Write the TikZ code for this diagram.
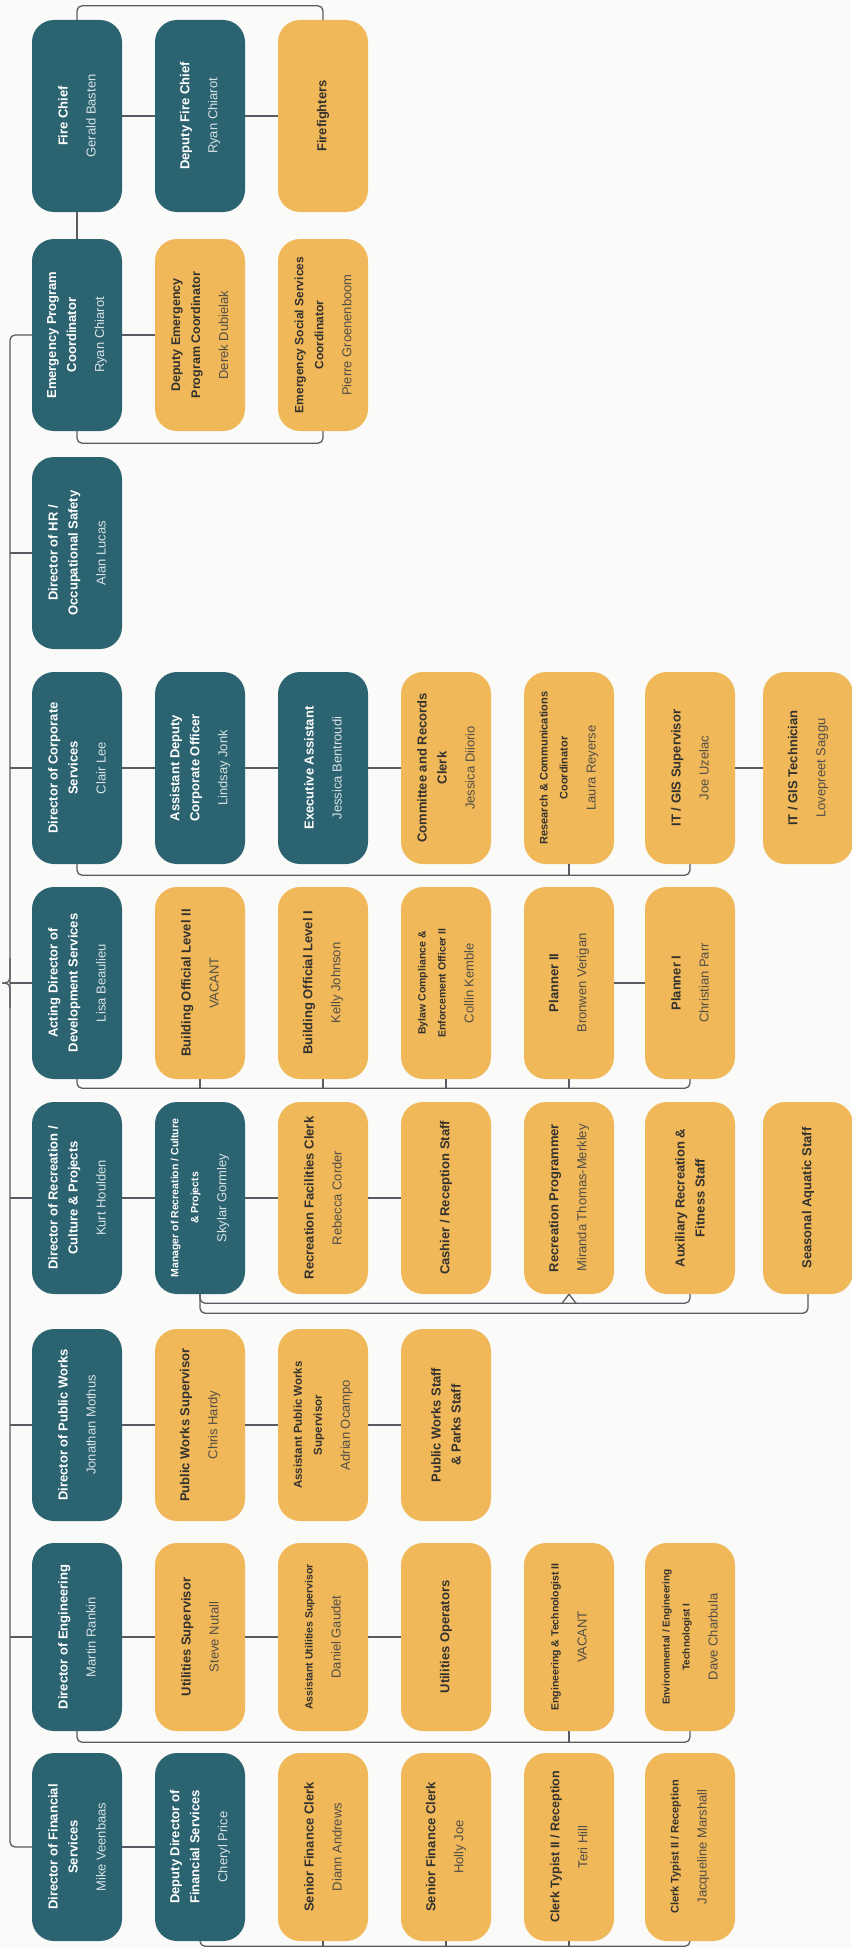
\documentclass[tikz,border=0pt]{standalone}
\usepackage{fontspec}
\setmainfont{Liberation Sans}
\usepackage{graphicx}
\usepackage{tikz, xcolor}

\definecolor{leadfill}{RGB}{44,99,113}
\definecolor{stafffill}{RGB}{240,184,88}
\definecolor{leadname}{RGB}{214,226,228}
\definecolor{stafftext}{RGB}{52,50,47}
\definecolor{staffname}{RGB}{82,78,72}
\definecolor{linegray}{RGB}{88,92,98}
\definecolor{paper}{RGB}{250,250,249}

\def\namecol{staffname}
\newcommand{\job}[3][13]{\rotatebox{90}{\parbox{184pt}{\centering
    \fontsize{#1}{20}\selectfont\bfseries #2\par\vspace{8pt}
    \fontsize{13}{20}\selectfont\mdseries\color{\namecol}#3}}}
\newcommand{\crew}[2][13]{\rotatebox{90}{\parbox{184pt}{\centering
    \fontsize{#1}{20}\selectfont\bfseries #2}}}

\tikzset{
  card/.style={rounded corners=22pt, minimum width=90pt, minimum height=192pt, inner sep=0pt},
  lead/.style={card, fill=leadfill, text=white, execute at begin node={\def\namecol{leadname}}},
  staff/.style={card, fill=stafffill, text=stafftext, execute at begin node={\def\namecol{staffname}}},
  short/.style={minimum height=188pt},
  link/.style={draw=linegray, line width=1.3pt, rounded corners=5pt}
}

\begin{document}
\begin{tikzpicture}[x=1pt, y=-1pt]
    \fill [paper] (0, 0) rectangle (851, 1948);
    \useasboundingbox (0, 0) rectangle (851, 1948);

    % fire
    \node [lead] (fc) at (77, 116) {\job{Fire Chief}{Gerald Basten}};
    \node [lead] (dfc) at (200, 116) {\job{Deputy Fire Chief}{Ryan Chiarot}};
    \node [staff] (ff) at (323, 116) {\crew{Firefighters}};

    % emergency program
    \node [lead] (epc) at (77, 335) {\job{Emergency Program\\Coordinator}{Ryan Chiarot}};
    \node [staff] (depc) at (200, 335) {\job[12.5]{Deputy Emergency\\Program Coordinator}{Derek Dubielak}};
    \node [staff] (ess) at (323, 335) {\job[12]{Emergency Social Services\\Coordinator}{Pierre Groenenboom}};

    % hr
    \node [lead] (dhr) at (77, 553) {\job{Director of HR /\\Occupational Safety}{Alan Lucas}};

    % corporate services
    \node [lead] (dcs) at (77, 768) {\job{Director of Corporate\\Services}{Clair Lee}};
    \node [lead] (adco) at (200, 768) {\job{Assistant Deputy\\Corporate Officer}{Lindsay Jonk}};
    \node [lead] (ea) at (323, 768) {\job{Executive Assistant}{Jessica Bentroudi}};
    \node [staff] (crc) at (446, 768) {\job{Committee and Records\\Clerk}{Jessica Diiorio}};
    \node [staff] (rcc) at (569, 768) {\job[11]{Research \& Communications\\Coordinator}{Laura Reyerse}};
    \node [staff] (its) at (690, 768) {\job{IT / GIS Supervisor}{Joe Uzelac}};
    \node [staff] (itt) at (808, 768) {\job{IT / GIS Technician}{Lovepreet Saggu}};

    % development services
    \node [lead] (dds) at (77, 983) {\job{Acting Director of\\Development Services}{Lisa Beaulieu}};
    \node [staff] (bo2) at (200, 983) {\job{Building Official Level II}{VACANT}};
    \node [staff] (bo1) at (323, 983) {\job{Building Official Level I}{Kelly Johnson}};
    \node [staff] (byl) at (446, 983) {\job[10.5]{Bylaw Compliance \&\\Enforcement Officer II}{Collin Kemble}};
    \node [staff] (p2) at (569, 983) {\job{Planner II}{Bronwen Verigan}};
    \node [staff] (p1) at (690, 983) {\job{Planner I}{Christian Parr}};

    % recreation
    \node [lead] (drc) at (77, 1198) {\job{Director of Recreation /\\Culture \& Projects}{Kurt Houlden}};
    \node [lead] (mgr) at (200, 1198) {\job[10.5]{Manager of Recreation / Culture\\\& Projects}{Skylar Gormley}};
    \node [staff] (rfc) at (323, 1198) {\job{Recreation Facilities Clerk}{Rebecca Corder}};
    \node [staff] (cash) at (446, 1198) {\crew{Cashier / Reception Staff}};
    \node [staff] (rp) at (569, 1198) {\job{Recreation Programmer}{Miranda Thomas-Merkley}};
    \node [staff] (aux) at (690, 1198) {\crew{Auxiliary Recreation \&\\Fitness Staff}};
    \node [staff] (sas) at (808, 1198) {\crew{Seasonal Aquatic Staff}};

    % public works
    \node [lead] (dpw) at (77, 1425) {\job{Director of Public Works}{Jonathan Mothus}};
    \node [staff] (pws) at (200, 1425) {\job{Public Works Supervisor}{Chris Hardy}};
    \node [staff] (apws) at (323, 1425) {\job[11.5]{Assistant Public Works\\Supervisor}{Adrian Ocampo}};
    \node [staff] (pwst) at (446, 1425) {\crew{Public Works Staff\\\& Parks Staff}};

    % engineering
    \node [lead, short] (den) at (77, 1637) {\job{Director of Engineering}{Martin Rankin}};
    \node [staff, short] (us) at (200, 1637) {\job{Utilities Supervisor}{Steve Nutall}};
    \node [staff, short] (aus) at (323, 1637) {\job[10.5]{Assistant Utilities Supervisor}{Daniel Gaudet}};
    \node [staff, short] (uo) at (446, 1637) {\crew{Utilities Operators}};
    \node [staff, short] (et2) at (569, 1637) {\job[10.5]{Engineering \& Technologist II}{VACANT}};
    \node [staff, short] (eet) at (690, 1637) {\job[10]{Environmental / Engineering\\Technologist I}{Dave Charbula}};

    % finance
    \node [lead, short] (dfs) at (77, 1847) {\job{Director of Financial\\Services}{Mike Veenbaas}};
    \node [lead, short] (ddfs) at (200, 1847) {\job{Deputy Director of\\Financial Services}{Cheryl Price}};
    \node [staff, short] (sfc1) at (323, 1847) {\job{Senior Finance Clerk}{Diann Andrews}};
    \node [staff, short] (sfc2) at (446, 1847) {\job{Senior Finance Clerk}{Holly Joe}};
    \node [staff, short] (ct1) at (569, 1847) {\job[12.5]{Clerk Typist II / Reception}{Teri Hill}};
    \node [staff, short] (ct2) at (690, 1847) {\job[11]{Clerk Typist II / Reception}{Jacqueline Marshall}};

    % spine
    \coordinate (spine) at (10, 0);
    \coordinate (root) at (2, 983);
    \coordinate (rootup) at (10, 958);
    \coordinate (rootdown) at (10, 1008);
    \draw [link] (epc.west) -| (spine |- dfs.west) -- (dfs.west);
    \foreach \d in {dhr, dcs, dds, drc, dpw, den}
      \draw [link] (\d.west) to (\d.west -| spine);
    \draw [link] (root) -| (rootup);
    \draw [link] (root) -| (rootdown);

    \draw [link] (fc.north) -- ++(0, -14) -| (ff.north);
    \draw [link] (fc.east) to (dfc.west);
    \draw [link] (dfc.east) to (ff.west);
    \draw [link] (fc.south) to (epc.north);

    \draw [link] (epc.east) to (depc.west);
    \draw [link] (epc.south) -- ++(0, 12) -| (ess.south);

    \draw [link] (dcs.east) to (adco.west);
    \draw [link] (adco.east) to (ea.west);
    \draw [link] (ea.east) to (crc.west);
    \draw [link] (its.east) to (itt.west);
    \draw [link] (dcs.south) -- ++(0, 11) -| (its.south);
    \draw [link] (rcc.south) -- ++(0, 11);

    \draw [link] (p2.east) to (p1.west);
    \draw [link] (dds.south) -- ++(0, 9) -| (p1.south);
    \foreach \s in {bo2, bo1, byl, p2}
      \draw [link] (\s.south) -- ++(0, 9);

    \draw [link] (drc.east) to (mgr.west);
    \draw [link] (mgr.east) to (rfc.west);
    \draw [link] (rfc.east) to (cash.west);
    \draw [link] (mgr.south) -- ++(0, 9) -| (aux.south);
    \draw [link] (mgr.south) -- ++(0, 19) -| (sas.south);
    \draw [link] (rp.south) -- ++(-7, 9);
    \draw [link] (rp.south) -- ++(7, 9);

    \draw [link] (dpw.east) to (pws.west);
    \draw [link] (pws.east) to (apws.west);
    \draw [link] (apws.east) to (pwst.west);

    \draw [link] (den.east) to (us.west);
    \draw [link] (us.east) to (aus.west);
    \draw [link] (aus.east) to (uo.west);
    \draw [link] (den.south) -- ++(0, 11) -| (eet.south);
    \draw [link] (et2.south) -- ++(0, 11);

    \draw [link] (dfs.east) to (ddfs.west);
    \draw [link] (ddfs.south) -- ++(0, 5) -| (ct2.south);
    \foreach \s in {sfc1, sfc2, ct1}
      \draw [link] (\s.south) -- ++(0, 5);

  \end{tikzpicture}
\end{document}
